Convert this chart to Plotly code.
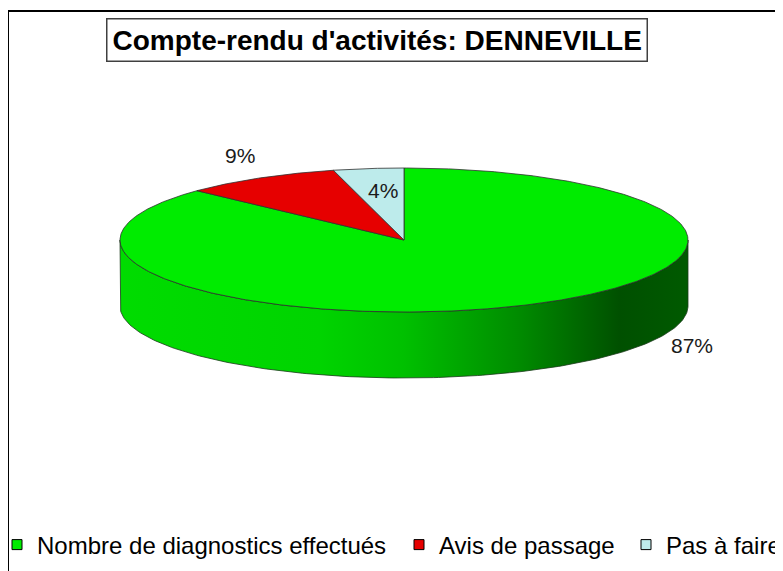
import numpy as np
import plotly.graph_objects as go

# ---- data ----
labels = ["Nombre de diagnostics effectués", "Avis de passage", "Pas à faire"]
values = [87, 9, 4]
colors = ["#00EC00", "#E60000", "#BDEBEB"]
title_text = "Compte-rendu d'activités: DENNEVILLE"

# ---- geometry / layout (pixel space of the window) ----
W, H = 783, 571
OFF = 8  # page body margin
CX, CY, RX, RY, DEPTH = 404, 240, 284, 72, 66
LABEL_POS = [(692, 345), (240, 155), (383, 190)]
LEGEND_TEXT_X = [37, 439, 666]
LEGEND_Y = 545
FONT = "Liberation Sans, Arial, sans-serif"


def ellipse(theta_deg, dy=0.0):
    t = np.radians(theta_deg)
    return CX + RX * np.sin(t), CY - RY * np.cos(t) + dy


fig = go.Figure()

# side of the cylinder (front half, from 3 o'clock to 9 o'clock via bottom)
th = np.linspace(90, 270, 181)
xs_top, ys_top = ellipse(th)
xs_bot, ys_bot = ellipse(th[::-1], DEPTH)
fig.add_trace(go.Scatter(
    x=np.concatenate([xs_top, xs_bot, xs_top[:1]]),
    y=np.concatenate([ys_top, ys_bot, ys_top[:1]]),
    mode="lines", fill="toself",
    line=dict(color="#1a3a1a", width=0.8),
    fillgradient=dict(type="horizontal", colorscale=[
        [0.0, "#00DC00"], [0.35, "#00D400"], [0.5, "#00C000"],
        [0.7, "#008C00"], [0.88, "#005000"], [1.0, "#005A00"]]),
    hoverinfo="skip", showlegend=False))

# top face slices, clockwise from 12 o'clock
total = float(sum(values))
start = 0.0
for lab, v, c in zip(labels, values, colors):
    end = start + v / total * 360.0
    n = max(int((end - start) * 2), 4)
    t = np.linspace(start, end, n)
    ex, ey = ellipse(t)
    fig.add_trace(go.Scatter(
        x=np.concatenate([[CX], ex, [CX]]),
        y=np.concatenate([[CY], ey, [CY]]),
        mode="lines", fill="toself", fillcolor=c,
        line=dict(color="#303030", width=0.8),
        hoverinfo="skip", showlegend=False))
    start = end

# legend entries, one legend box per entry
legend_names = ["legend", "legend2", "legend3"]
for lab, c, lg in zip(labels, colors, legend_names):
    fig.add_trace(go.Scatter(
        x=[None], y=[None], mode="markers", name=lab, legend=lg,
        marker=dict(symbol="square", size=10, color=c,
                    line=dict(color="black", width=1))))

legend_layout = {}
for lg, tx in zip(legend_names, LEGEND_TEXT_X):
    legend_layout[lg] = dict(
        orientation="h", x=(tx - 40 - OFF) / W, y=1 - (LEGEND_Y - OFF) / H,
        xanchor="left", yanchor="middle",
        font=dict(family=FONT, size=24, color="black"),
        bgcolor="rgba(0,0,0,0)", itemclick=False, itemdoubleclick=False)

# percentage labels
for v, (lx, ly) in zip(values, LABEL_POS):
    fig.add_annotation(x=lx, y=ly, text=f"{round(v / total * 100)}%",
                       showarrow=False, xref="x", yref="y",
                       font=dict(family=FONT, size=21, color="#1a1a1a"))

# title box
fig.add_annotation(x=377, y=39.5, xref="x", yref="y", text=f"<b>{title_text}</b>",
                   showarrow=False, bgcolor="white", bordercolor="#404040",
                   borderwidth=1.5, borderpad=5,
                   font=dict(family=FONT, size=28, color="black"))

# outer chart frame (cropped at right and bottom)
fig.add_shape(type="rect", x0=8, y0=11, x1=W + 20, y1=H + 20,
              xref="x", yref="y", line=dict(color="black", width=2),
              layer="below")

fig.update_layout(
    width=W, height=H,
    margin=dict(l=0, r=0, t=0, b=0, autoexpand=False),
    paper_bgcolor="white", plot_bgcolor="white",
    xaxis=dict(range=[OFF, W + OFF], visible=False, fixedrange=True),
    yaxis=dict(range=[H + OFF, OFF], visible=False, fixedrange=True),
    showlegend=True,
    **legend_layout,
)

fig.write_html("out.html")
